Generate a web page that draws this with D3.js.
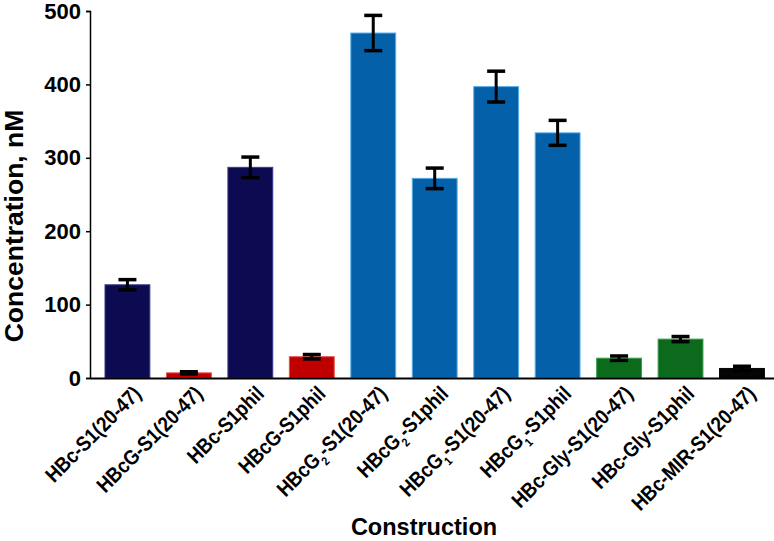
<!DOCTYPE html>
<html>
<head>
<meta charset="utf-8">
<script src="https://cdn.jsdelivr.net/npm/d3@7"></script>
<style>
  body { margin: 0; background: #fff; }
  svg { display: block; }
</style>
</head>
<body>
<div id="chart"></div>
<script>
// chart data
// "_x" marks a subscript character in a label
const constructs = [
  "HBc-S1(20-47)", "HBcG-S1(20-47)", "HBc-S1phil", "HBcG-S1phil",
  "HBcG_2-S1(20-47)", "HBcG_2-S1phil", "HBcG_1-S1(20-47)", "HBcG_1-S1phil",
  "HBc-Gly-S1(20-47)", "HBc-Gly-S1phil", "HBc-MIR-S1(20-47)"
];
const concentration = [127, 7, 287, 29, 470, 272, 397, 334, 27, 53, 13];
const errors = [7, 1.5, 14, 3, 24, 14, 21, 17, 3, 3.5, 3];
const groups = ["HBc", "HBcG", "HBc", "HBcG", "G", "G", "G", "G", "Gly", "Gly", "MIR"];
const yTicks = [0, 100, 200, 300, 400, 500];

const groupColor = {
  HBc: "#0c0a50",
  HBcG: "#c00000",
  G: "#0560aa",
  Gly: "#0b6a1b",
  MIR: "#050505"
};
const groupStroke = {
  HBc: "#3a3a8a",
  HBcG: "#e05050",
  G: "#5aaee8",
  Gly: "#40a050",
  MIR: "#050505"
};

const svgWidth = 774;
const svgHeight = 541;

const margin = { top: 11, right: 0, bottom: 163, left: 90 };
const chartWidth = svgWidth - margin.left - margin.right;
const chartHeight = svgHeight - margin.top - margin.bottom;

const svg = d3.select("#chart")
  .append("svg")
  .attr("width", svgWidth)
  .attr("height", svgHeight)
  .style("font-family", "'Liberation Sans', Arial, sans-serif");

const chartGroup = svg.append("g")
  .attr("transform", `translate(${margin.left}, ${margin.top})`);

const rows = constructs.map((c, i) => ({
  name: c, value: concentration[i], err: errors[i], group: groups[i]
}));

// scales
const xBandScale = d3.scaleBand()
  .domain(constructs)
  .range([0, chartWidth])
  .paddingInner(0.27)
  .paddingOuter(0.2)
  .align(0.61);

const yLinearScale = d3.scaleLinear()
  .domain([0, 500])
  .range([chartHeight, 0]);

// bars
chartGroup.selectAll("rect.bar")
  .data(rows)
  .enter()
  .append("rect")
  .attr("class", "bar")
  .attr("x", d => xBandScale(d.name))
  .attr("width", xBandScale.bandwidth())
  .attr("y", d => yLinearScale(d.value))
  .attr("height", d => chartHeight - yLinearScale(d.value))
  .attr("fill", d => groupColor[d.group])
  .attr("stroke", d => groupStroke[d.group])
  .attr("stroke-width", 1);

// error bars
const capHalf = 9;
const errGroup = chartGroup.selectAll("g.err")
  .data(rows)
  .enter()
  .append("g")
  .attr("class", "err")
  .attr("transform", d => `translate(${xBandScale(d.name) + xBandScale.bandwidth() / 2}, 0)`)
  .attr("stroke", "#000")
  .attr("stroke-width", 3.5);

errGroup.append("line")
  .attr("x1", 0).attr("x2", 0)
  .attr("y1", d => yLinearScale(d.value + d.err))
  .attr("y2", d => yLinearScale(d.value - d.err))
  .attr("stroke-width", 3);

errGroup.append("line")
  .attr("x1", -capHalf).attr("x2", capHalf)
  .attr("y1", d => yLinearScale(d.value + d.err))
  .attr("y2", d => yLinearScale(d.value + d.err));

errGroup.append("line")
  .attr("x1", -capHalf).attr("x2", capHalf)
  .attr("y1", d => yLinearScale(d.value - d.err))
  .attr("y2", d => yLinearScale(d.value - d.err));

// y axis
const leftAxis = d3.axisLeft(yLinearScale)
  .tickValues(yTicks)
  .tickSize(4)
  .tickPadding(5);

const yAxis = chartGroup.append("g").call(leftAxis);
yAxis.select(".domain").attr("stroke", "#000").attr("stroke-width", 1.5);
yAxis.selectAll(".tick line").attr("stroke", "#000").attr("stroke-width", 1.5);
yAxis.selectAll(".tick text")
  .attr("fill", "#000")
  .style("font-size", "22px")
  .style("font-weight", "bold")
  .style("font-family", "'Liberation Sans', Arial, sans-serif");

// x axis line
const bottomAxis = d3.axisBottom(xBandScale).tickSize(0).tickFormat("");
const xAxis = chartGroup.append("g")
  .attr("transform", `translate(0, ${chartHeight})`)
  .call(bottomAxis);
xAxis.select(".domain").attr("stroke", "#000").attr("stroke-width", 2);

// rotated category labels with subscripts (condensed bold)
const labelGroup = chartGroup.append("g")
  .style("font-family", "'Liberation Sans', Arial, sans-serif")
  .style("font-weight", "bold")
  .style("font-size", "21px");

labelGroup.selectAll("text")
  .data(rows)
  .enter()
  .append("text")
  .attr("text-anchor", "end")
  .attr("transform", d =>
    `translate(${xBandScale(d.name) + xBandScale.bandwidth() / 2 + 15}, ${chartHeight + 17}) rotate(-45) scale(0.88, 1)`)
  .each(function (d) {
    const t = d3.select(this);
    const parts = d.name.split(/_(.)/);
    parts.forEach((p, i) => {
      if (!p) return;
      if (i % 2 === 1) {
        t.append("tspan").attr("baseline-shift", "sub").style("font-size", "12px").text(p);
      } else {
        t.append("tspan").text(p);
      }
    });
  });

// axis titles
svg.append("text")
  .attr("transform", `translate(23, 226) rotate(-90)`)
  .attr("text-anchor", "middle")
  .style("font-size", "26.5px")
  .style("font-weight", "bold")
  .text("Concentration, nM");

svg.append("text")
  .attr("x", 424)
  .attr("y", 535)
  .attr("text-anchor", "middle")
  .style("font-size", "23.5px")
  .style("font-weight", "bold")
  .text("Construction");
</script>
</body>
</html>
